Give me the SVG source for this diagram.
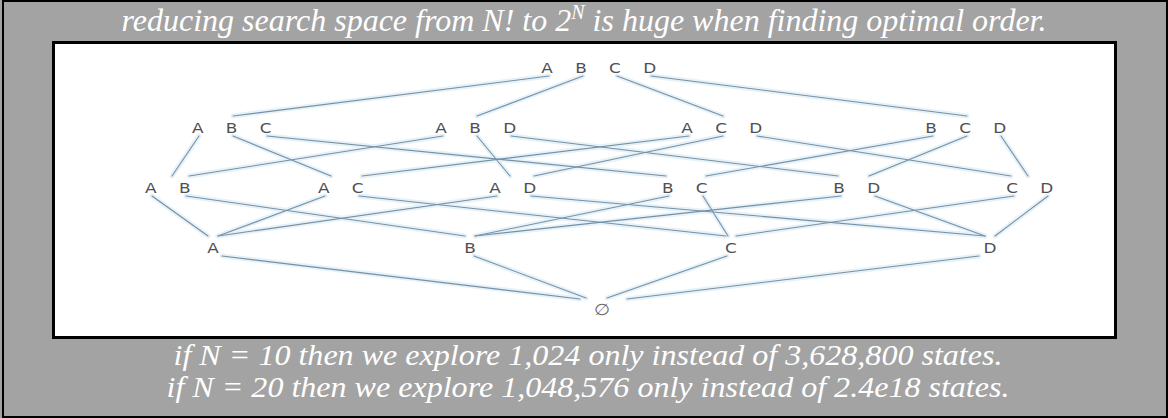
<svg xmlns="http://www.w3.org/2000/svg" width="1168" height="418" viewBox="0 0 1168 418">
  <style>
    .caption { font-family: "Liberation Serif", "Times New Roman", serif; font-style: italic; font-size: 32px; fill: #ffffff; text-anchor: middle; }
    .note { font-size: 28.5px; }
    .sup { font-size: 20px; }
    .lbl { font-family: "DejaVu Sans", Verdana, sans-serif; font-size: 13.5px; fill: #505050; text-anchor: middle; letter-spacing: 6.8px; }
    .one { letter-spacing: 0; }
    .empty { font-size: 16px; fill: #6a6a6a; }
    .edge { fill: none; stroke: #7590a6; stroke-width: 1.1; stroke-linecap: round; }
    .halo { fill: none; stroke: #e6f1f8; stroke-width: 5; stroke-linecap: round; }
  </style>
  <defs>
    <!-- every lattice edge, drawn twice: a soft halo and the line itself -->
    <g id="edges">
      <!-- {A,B,C,D} to the three-element sets -->
      <line x1="549" y1="76" x2="233" y2="116"/>
      <line x1="583" y1="76" x2="477" y2="116"/>
      <line x1="617" y1="76" x2="723" y2="116"/>
      <line x1="651" y1="76" x2="967" y2="116"/>
      <!-- three-element sets to pairs -->
      <line x1="199" y1="136" x2="172" y2="176"/>
      <line x1="233" y1="136" x2="331" y2="176"/>
      <line x1="267" y1="136" x2="666" y2="176"/>
      <line x1="443" y1="136" x2="189" y2="176"/>
      <line x1="477" y1="136" x2="510" y2="176"/>
      <line x1="511" y1="136" x2="838" y2="176"/>
      <line x1="689" y1="136" x2="362" y2="176"/>
      <line x1="723" y1="136" x2="534" y2="176"/>
      <line x1="757" y1="136" x2="1011" y2="176"/>
      <line x1="933" y1="136" x2="706" y2="176"/>
      <line x1="967" y1="136" x2="869" y2="176"/>
      <line x1="1001" y1="136" x2="1028" y2="176"/>
      <!-- pairs to singletons -->
      <line x1="152" y1="196" x2="208" y2="236"/>
      <line x1="186" y1="196" x2="465" y2="236"/>
      <line x1="325" y1="196" x2="218" y2="236"/>
      <line x1="359" y1="196" x2="726" y2="236"/>
      <line x1="497" y1="196" x2="218" y2="236"/>
      <line x1="531" y1="196" x2="985" y2="236"/>
      <line x1="669" y1="196" x2="475" y2="236"/>
      <line x1="703" y1="196" x2="728" y2="236"/>
      <line x1="841" y1="196" x2="475" y2="236"/>
      <line x1="875" y1="196" x2="985" y2="236"/>
      <line x1="1014" y1="196" x2="736" y2="236"/>
      <line x1="1048" y1="196" x2="995" y2="236"/>
      <!-- singletons to the empty set -->
      <line x1="222" y1="256" x2="580" y2="299"/>
      <line x1="474" y1="256" x2="586" y2="298"/>
      <line x1="727" y1="256" x2="607" y2="298"/>
      <line x1="979" y1="256" x2="627" y2="299"/>
    </g>
  </defs>

  <!-- page -->
  <rect x="0" y="0" width="1168" height="418" fill="#a3a3a3"/>
  <rect x="3" y="1" width="1164" height="416" fill="none" stroke="#000" stroke-width="2"/>

  <text class="caption" x="584" y="31">reducing search space from N! to 2<tspan class="sup" dy="-12">N</tspan><tspan dy="12"> is huge when finding optimal order.</tspan></text>

  <!-- lattice panel -->
  <rect x="53.5" y="42.5" width="1062" height="295" fill="#ffffff" stroke="#000" stroke-width="3"/>

  <g id="connectors">
    <use href="#edges" class="halo"/>
    <use href="#edges" class="edge"/>
  </g>

  <g id="n-ABCD" transform="translate(603,72.5) scale(1.25,1)"><text class="lbl">A B C D</text></g>

  <g id="n-ABC" transform="translate(236,132.5) scale(1.25,1)"><text class="lbl">A B C</text></g>
  <g id="n-ABD" transform="translate(480,132.5) scale(1.25,1)"><text class="lbl">A B D</text></g>
  <g id="n-ACD" transform="translate(726,132.5) scale(1.25,1)"><text class="lbl">A C D</text></g>
  <g id="n-BCD" transform="translate(970,132.5) scale(1.25,1)"><text class="lbl">B C D</text></g>

  <g id="n-AB" transform="translate(172,192.5) scale(1.25,1)"><text class="lbl">A B</text></g>
  <g id="n-AC" transform="translate(345,192.5) scale(1.25,1)"><text class="lbl">A C</text></g>
  <g id="n-AD" transform="translate(517,192.5) scale(1.25,1)"><text class="lbl">A D</text></g>
  <g id="n-BC" transform="translate(689,192.5) scale(1.25,1)"><text class="lbl">B C</text></g>
  <g id="n-BD" transform="translate(861,192.5) scale(1.25,1)"><text class="lbl">B D</text></g>
  <g id="n-CD" transform="translate(1034,192.5) scale(1.25,1)"><text class="lbl">C D</text></g>

  <g id="n-A" transform="translate(213,252.5) scale(1.25,1)"><text class="lbl one">A</text></g>
  <g id="n-B" transform="translate(470,252.5) scale(1.25,1)"><text class="lbl one">B</text></g>
  <g id="n-C" transform="translate(731,252.5) scale(1.25,1)"><text class="lbl one">C</text></g>
  <g id="n-D" transform="translate(990,252.5) scale(1.25,1)"><text class="lbl one">D</text></g>

  <g id="n-empty" transform="translate(602,315) scale(1.15,1)"><text class="lbl one empty">∅</text></g>

  <text class="caption note" x="588" y="365" textLength="829" lengthAdjust="spacingAndGlyphs">if N = 10 then we explore 1,024 only instead of 3,628,800 states.</text>
  <text class="caption note" x="588" y="397" textLength="843" lengthAdjust="spacingAndGlyphs">if N = 20 then we explore 1,048,576 only instead of 2.4e18 states.</text>
</svg>
